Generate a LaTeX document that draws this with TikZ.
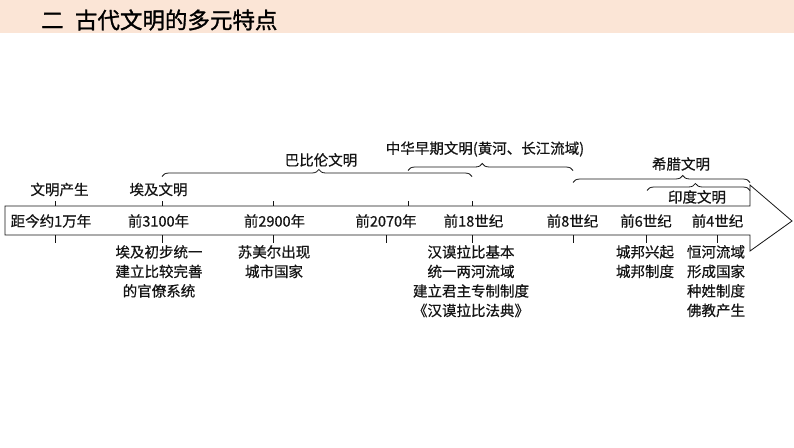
\documentclass[tikz,border=0pt]{standalone}
\usepackage{fontspec}
\setmainfont{Noto Sans CJK SC}[FakeBold=0.6]
\newfontfamily\titlefont{Noto Sans CJK SC}[FakeBold=1.2]
\usetikzlibrary{decorations.pathreplacing}
\definecolor{headerpeach}{RGB}{251,229,214}
\definecolor{inkc}{RGB}{20,20,20}
\begin{document}
\begin{tikzpicture}[x=1pt,y=-1pt,
  lbl/.style={font=\fontsize{14.5}{17}\selectfont, inner sep=0pt, text=inkc},
  desc/.style={font=\fontsize{14.5}{19.5}\selectfont, align=center, inner sep=0pt, anchor=north, text=inkc},
  ln/.style={line width=0.8pt, draw=inkc},
  bracepath/.style={ln, decorate, decoration={brace, amplitude=7pt, aspect=#1}},
]
\useasboundingbox (0,0) rectangle (794,447);
\fill[white] (0,0) rectangle (794,447);
\fill[headerpeach] (0,0) rectangle (794,33);
\node[font=\titlefont\fontsize{22.5}{25}\selectfont, anchor=west, inner sep=0pt, text=black] (title) at (41,20) {二\hspace{0.5em}古代文明的多元特点};

% timeline bar with arrow
\coordinate (b1) at (5,206);
\coordinate (b2) at (750,206);
\coordinate (b3) at (750,185);
\coordinate (tip) at (792,221);
\coordinate (b4) at (750,251);
\coordinate (b5) at (750,235);
\coordinate (b6) at (5,235);
\draw[ln, line join=miter] (b1) -- (b2) -- (b3) -- (tip) -- (b4) -- (b5) -- (b6) -- cycle;

% top ticks
\foreach \x in {55,162,273,408,472}{
  \draw[ln] (\x,201) -- (\x,206);
}
% bottom ticks
\foreach \x in {55,162,273,386,472,573,646,717}{
  \draw[ln] (\x,235) -- (\x,243);
}

% labels inside bar
\node[lbl] (t1) at (51,221) {距今约1万年};
\node[lbl] (t2) at (158.5,221) {前3100年};
\node[lbl] (t3) at (274.5,221) {前2900年};
\node[lbl] (t4) at (386,221) {前2070年};
\node[lbl] (t5) at (473.5,221) {前18世纪};
\node[lbl] (t6) at (572.5,221) {前8世纪};
\node[lbl] (t7) at (646,221) {前6世纪};
\node[lbl] (t8) at (717.5,221) {前4世纪};

% labels above bar
\node[lbl] (u1) at (59.5,189.5) {文明产生};
\node[lbl] (u2) at (158.5,189.5) {埃及文明};
\node[lbl] (u3) at (321,160) {巴比伦文明};
\node[lbl] (u4) at (485,149) {中华早期文明(黄河、长江流域)};
\node[lbl] (u5) at (681,164) {希腊文明};
\node[lbl] (u6) at (697,197) {印度文明};

% braces
\coordinate (bab1) at (162,176.5);
\coordinate (bab2) at (472,176.5);
\draw[bracepath=0.506] (bab1) -- (bab2);
\coordinate (zh1) at (408,170.5);
\coordinate (zh2) at (573,170.5);
\draw[bracepath=0.45] (zh1) -- (zh2);
\coordinate (gr1) at (573,182.5);
\coordinate (gr2) at (750,182.5);
\draw[bracepath=0.62] (gr1) -- (gr2);
\coordinate (in1) at (647,190.5);
\coordinate (in2) at (750,190.5);
\draw[bracepath=0.47] (in1) -- (in2);

% descriptions below bar
\node[desc] (d1) at (159,245) {埃及初步统一\\建立比较完善\\的官僚系统};
\node[desc] (d2) at (274,245) {苏美尔出现\\城市国家};
\node[desc] (d3) at (471,245) {汉谟拉比基本\\统一两河流域\\建立君主专制制度\\《汉谟拉比法典》};
\node[desc] (d4) at (645,245) {城邦兴起\\城邦制度};
\node[desc] (d5) at (716,245) {恒河流域\\形成国家\\种姓制度\\佛教产生};
\end{tikzpicture}
\end{document}
